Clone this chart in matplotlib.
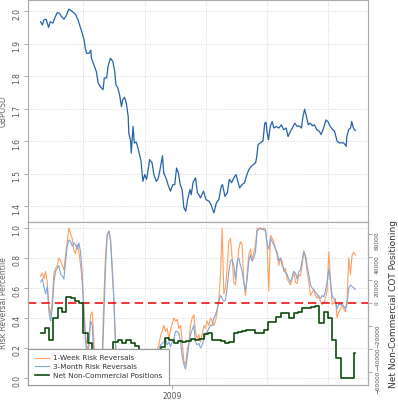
import numpy as np
import matplotlib
matplotlib.use("Agg")
import matplotlib.pyplot as plt
import matplotlib.dates as mdates
import matplotlib.ticker as ticker

start = np.datetime64("2008-05-31")

# GBPUSD spot (days since start, rate)
gbp_days = [0, 3, 5, 9, 13, 16, 20, 23, 27, 31,
            34, 38, 42, 46, 50, 54, 57, 61, 65, 68,
            71, 73, 75, 79, 82, 83, 87, 91, 94, 98,
            102, 104, 108, 110, 114, 118, 121, 123, 126, 129,
            132, 134, 137, 140, 143, 144, 147, 148, 151, 153,
            156, 159, 161, 164, 167, 170, 173, 176, 178, 182,
            185, 189, 192, 195, 197, 199, 201, 205, 208, 212,
            216, 219, 222, 225, 228, 231, 234, 237, 240, 244,
            246, 249, 253, 256, 259, 261, 266, 270, 275, 278,
            283, 287, 291, 295, 297, 301, 305, 308, 312, 315,
            319, 322, 325, 329, 333, 336, 340, 344, 347, 351,
            353, 355, 359, 363, 366, 368, 370, 372, 375, 378,
            381, 385, 389, 393, 397, 401, 404, 408, 411, 415,
            419, 422, 426, 428, 431, 434, 437, 440, 444, 447,
            451, 455, 458, 462, 466, 469, 473, 477, 480, 484,
            488, 491, 495, 499, 500, 503, 506, 508, 510, 512,
            514]
gbp_usd = [1.967, 1.957, 1.972, 1.975, 1.950, 1.967, 1.963, 1.978, 1.995, 1.993,
           1.983, 1.975, 1.986, 2.006, 2.001, 1.995, 1.990, 1.973, 1.950, 1.932,
           1.911, 1.886, 1.870, 1.870, 1.880, 1.855, 1.834, 1.814, 1.778, 1.766,
           1.758, 1.794, 1.795, 1.829, 1.855, 1.845, 1.814, 1.773, 1.764, 1.742,
           1.706, 1.727, 1.735, 1.717, 1.676, 1.625, 1.600, 1.563, 1.645, 1.594,
           1.597, 1.579, 1.563, 1.538, 1.476, 1.497, 1.482, 1.517, 1.543, 1.533,
           1.497, 1.476, 1.485, 1.512, 1.533, 1.555, 1.502, 1.485, 1.466, 1.446,
           1.466, 1.466, 1.517, 1.502, 1.466, 1.451, 1.395, 1.384, 1.420, 1.451,
           1.435, 1.473, 1.487, 1.441, 1.433, 1.425, 1.446, 1.420, 1.415, 1.405,
           1.379, 1.410, 1.420, 1.461, 1.466, 1.430, 1.441, 1.482, 1.472, 1.485,
           1.497, 1.476, 1.456, 1.466, 1.472, 1.492, 1.512, 1.522, 1.527, 1.533,
           1.553, 1.589, 1.595, 1.600, 1.655, 1.658, 1.625, 1.604, 1.645, 1.660,
           1.640, 1.645, 1.640, 1.650, 1.635, 1.640, 1.614, 1.630, 1.640, 1.655,
           1.645, 1.647, 1.640, 1.671, 1.698, 1.676, 1.650, 1.655, 1.647, 1.650,
           1.635, 1.630, 1.620, 1.640, 1.665, 1.660, 1.645, 1.635, 1.630, 1.600,
           1.594, 1.595, 1.594, 1.584, 1.614, 1.635, 1.640, 1.660, 1.645, 1.635,
           1.633]

# risk reversal percentiles, evenly spaced over the same period
rr_1w = [0.68, 0.70, 0.66, 0.71, 0.64, 0.48, 0.42, 0.51, 0.70, 0.73,
         0.75, 0.80, 0.78, 0.75, 0.72, 0.82, 0.91, 1.00, 0.96, 0.93,
         0.85, 0.83, 0.89, 0.84, 0.75, 0.64, 0.46, 0.29, 0.18, 0.24,
         0.42, 0.44, 0.24, 0.06, -0.02, -0.03, 0.00, 0.15, 0.53, 0.82,
         0.96, 0.98, 0.93, 0.75, 0.51, 0.20, 0.02,
         0.05, 0.08, 0.12, 0.10, 0.06, 0.03, 0.05, 0.09, 0.12, 0.14,
         0.11, 0.08, 0.06, 0.10, 0.13, 0.15, 0.12, 0.09, 0.11, 0.14,
         0.16, 0.18, 0.17, 0.19, 0.22, 0.28,
         0.31, 0.35, 0.31, 0.33, 0.26, 0.32, 0.36, 0.40, 0.38, 0.39,
         0.33, 0.35, 0.24, 0.11, 0.09, 0.18, 0.24, 0.35, 0.40, 0.42,
         0.31, 0.26, 0.29,
         0.24, 0.29, 0.35, 0.33, 0.38, 0.35, 0.40, 0.38, 0.35, 0.38,
         0.44, 0.53, 0.69, 1.00, 0.56, 0.60, 0.73, 0.91, 0.93, 0.80,
         0.64, 0.62, 0.75, 0.86, 0.91, 0.89, 0.64, 0.55, 0.69, 0.82,
         0.86, 0.78, 0.84, 0.89, 1.00, 0.99, 1.00, 0.99, 1.00, 0.99,
         0.89, 0.58, 0.95, 0.93, 0.91, 0.86, 0.82, 0.75, 0.80, 0.78,
         0.71, 0.73, 0.66, 0.64, 0.62, 0.66, 0.71, 0.64, 0.63, 0.69,
         0.68, 0.75, 0.85, 0.80, 0.71, 0.64, 0.55, 0.57, 0.59, 0.55,
         0.53, 0.55, 0.51, 0.49, 0.50, 0.53, 0.58, 0.84, 0.66, 0.49,
         0.50, 0.53, 0.40, 0.44, 0.46, 0.49, 0.46, 0.44, 0.53, 0.80,
         0.69, 0.82, 0.84, 0.82]
rr_3m = [0.64, 0.66, 0.61, 0.56, 0.61, 0.44, 0.38, 0.46, 0.64, 0.71,
         0.73, 0.75, 0.69, 0.68, 0.66, 0.78, 0.88, 0.92, 0.91, 0.88,
         0.90, 0.89, 0.86, 0.90, 0.84, 0.69, 0.42, 0.24, 0.13, 0.22,
         0.38, 0.35, 0.15, 0.04, -0.04, -0.04, -0.02, 0.08, 0.42, 0.75,
         0.95, 0.98, 0.91, 0.71, 0.53, 0.24, 0.04,
         0.03, 0.05, 0.09, 0.08, 0.05, 0.02, 0.03, 0.06, 0.09, 0.11,
         0.09, 0.07, 0.05, 0.07, 0.10, 0.12, 0.10, 0.08, 0.09, 0.11,
         0.13, 0.15, 0.15, 0.17, 0.19, 0.22,
         0.23, 0.24, 0.26, 0.22, 0.24, 0.21, 0.24, 0.26, 0.31, 0.31,
         0.30, 0.24, 0.15, 0.09, 0.06, 0.13, 0.22, 0.29, 0.32, 0.35,
         0.24, 0.22, 0.23,
         0.20, 0.22, 0.26, 0.29, 0.31, 0.33, 0.35, 0.35, 0.40, 0.42,
         0.46, 0.51, 0.55, 0.53, 0.51, 0.52, 0.60, 0.71, 0.78, 0.79,
         0.75, 0.66, 0.78, 0.80, 0.75, 0.71, 0.64, 0.58, 0.66, 0.78,
         0.82, 0.78, 0.80, 0.84, 0.98, 0.99, 1.00, 0.99, 0.99, 0.98,
         0.89, 0.86, 0.93, 0.91, 0.89, 0.86, 0.84, 0.78, 0.80, 0.75,
         0.73, 0.70, 0.69, 0.66, 0.64, 0.67, 0.71, 0.70, 0.66, 0.71,
         0.72, 0.78, 0.84, 0.82, 0.75, 0.69, 0.62, 0.60, 0.59, 0.57,
         0.56, 0.54, 0.53, 0.55, 0.54, 0.58, 0.64, 0.73, 0.64, 0.55,
         0.53, 0.51, 0.46, 0.49, 0.49, 0.49, 0.48, 0.46, 0.49, 0.60,
         0.62, 0.61, 0.60, 0.59]

# weekly net non-commercial COT positions (contracts)
cot_net = [-26300, -22000, -32100, -13300, -4600, -7500, 5500, 4000, 1700, -300,
           -26300, -35000, -45000, -50000, -48000, -46000, -42000, -33500, -32100, -35000,
           -32100, -34400, -37000, -41000, -45000, -47000, -44000, -42000, -37900, -30600,
           -32100, -35000, -32900, -33500, -32900, -31200, -32100, -31200, -27200, -26300,
           -32100, -32400, -32900, -35000, -34100, -26300, -24900, -24000, -23400, -23400,
           -26300, -26300, -23400, -16200, -16200, -11800, -9000, -9000, -13300, -9000,
           -7500, -4600, -4000, -3200, -2300, -17600, -7500, -13300, -32100, -48000,
           -65300, -65300, -65300, -43600]
span_days = 514

t0 = mdates.date2num(start)
gbp_x = t0 + np.array(gbp_days)
rr_x = np.linspace(t0, t0 + span_days, len(rr_1w))
cot_x = np.append(t0 + 7 * np.arange(len(cot_net)), t0 + span_days)
cot_y = np.append(cot_net, cot_net[-1])
pad = 0.04 * span_days
xlim = (t0 - pad, t0 + span_days + pad)

grid_kw = dict(color="#d4d4d4", linestyle=":", linewidth=0.7)
tick_col = "#555555"
spine_col = "#aaaaaa"

fig = plt.figure(figsize=(3.98, 4.0), dpi=100)
ax1 = fig.add_axes([28 / 398, 178 / 400, 340 / 398, 222 / 400])
ax2 = fig.add_axes([28 / 398, 15 / 400, 340 / 398, 163 / 400])
ax3 = ax2.twinx()

for ax in (ax1, ax2, ax3):
    for s in ax.spines.values():
        s.set_color(spine_col)
        s.set_linewidth(0.8)
    ax.tick_params(labelsize=5.5, labelcolor=tick_col, color="#888888",
                   length=3, width=0.5)
    ax.set_xlim(xlim)

# top panel
ax1.plot(gbp_x, gbp_usd, color="#2563a8", lw=0.9)
ax1.set_ylim(1.351, 2.034)
ax1.set_yticks([1.4, 1.5, 1.6, 1.7, 1.8, 1.9, 2.0])
ax1.yaxis.set_major_formatter(ticker.FormatStrFormatter("%.1f"))
ax1.tick_params(axis="y", labelrotation=90, pad=2)
ax1.set_xticks([])
ax1.xaxis.set_minor_locator(ticker.MultipleLocator(100))
ax1.tick_params(axis="x", which="minor", length=0)
ax1.grid(True, axis="y", **grid_kw)
ax1.grid(True, axis="x", which="minor", **grid_kw)
ax1.set_ylabel("GBPUSD", fontsize=5.5, color="#666666")
ax1.yaxis.set_label_coords(-0.059, 0.5)
ax1.set_axisbelow(True)

# bottom panel
l1, = ax2.plot(rr_x, rr_1w, color="#fd9f5f", lw=0.8, label="1-Week Risk Reversals")
l2, = ax2.plot(rr_x, rr_3m, color="#7fa6d8", lw=0.8, label="3-Month Risk Reversals")
ax2.axhline(0.5, color="#ee1111", lw=1.2, ls=(0, (5, 3)), zorder=5)
ax2.set_ylim(-0.047, 1.04)
ax2.set_yticks([0.0, 0.2, 0.4, 0.6, 0.8, 1.0])
ax2.yaxis.set_major_formatter(ticker.FormatStrFormatter("%.1f"))
ax2.tick_params(axis="y", labelrotation=90, pad=2)
ax2.set_xticks([mdates.date2num(np.datetime64("2009-01-01"))])
ax2.set_xticklabels(["2009"])
ax2.tick_params(axis="x", pad=2)
ax2.xaxis.set_minor_locator(ticker.MultipleLocator(100))
ax2.tick_params(axis="x", which="minor", length=0)
ax2.grid(True, axis="y", **grid_kw)
ax2.grid(True, axis="x", which="minor", **grid_kw)
ax2.set_ylabel("Risk Reversal Percentile", fontsize=5.5, color="#666666")
ax2.yaxis.set_label_coords(-0.059, 0.5)
ax2.set_axisbelow(True)

l3, = ax3.plot(cot_x, cot_y, drawstyle="steps-post", color="#0d4a0d", lw=1.2,
               label="Net Non-Commercial Positions")
ylo, yhi = ax2.get_ylim()
ax3.set_ylim((ylo - 0.5) * 130000, (yhi - 0.5) * 130000)
ax3.set_yticks([-60000, -40000, -20000, 0, 20000, 40000, 60000])
ax3.tick_params(axis="y", labelrotation=90, pad=2, labelsize=4.2)
ax3.set_ylabel("Net Non-Commercial COT Positioning", fontsize=6.5, color="#333333")
ax3.yaxis.set_label_coords(1.062, 0.5)

leg = ax3.legend(handles=[l1, l2, l3], loc="lower left", fontsize=5.2,
                 frameon=True, fancybox=False, framealpha=1, edgecolor="#999999",
                 borderaxespad=0, handlelength=2.0, labelspacing=0.35,
                 borderpad=0.9, handletextpad=0.6)
leg.get_frame().set_linewidth(0.8)
for t in leg.get_texts():
    t.set_color("#333333")

plt.savefig("out.png", dpi=100)
